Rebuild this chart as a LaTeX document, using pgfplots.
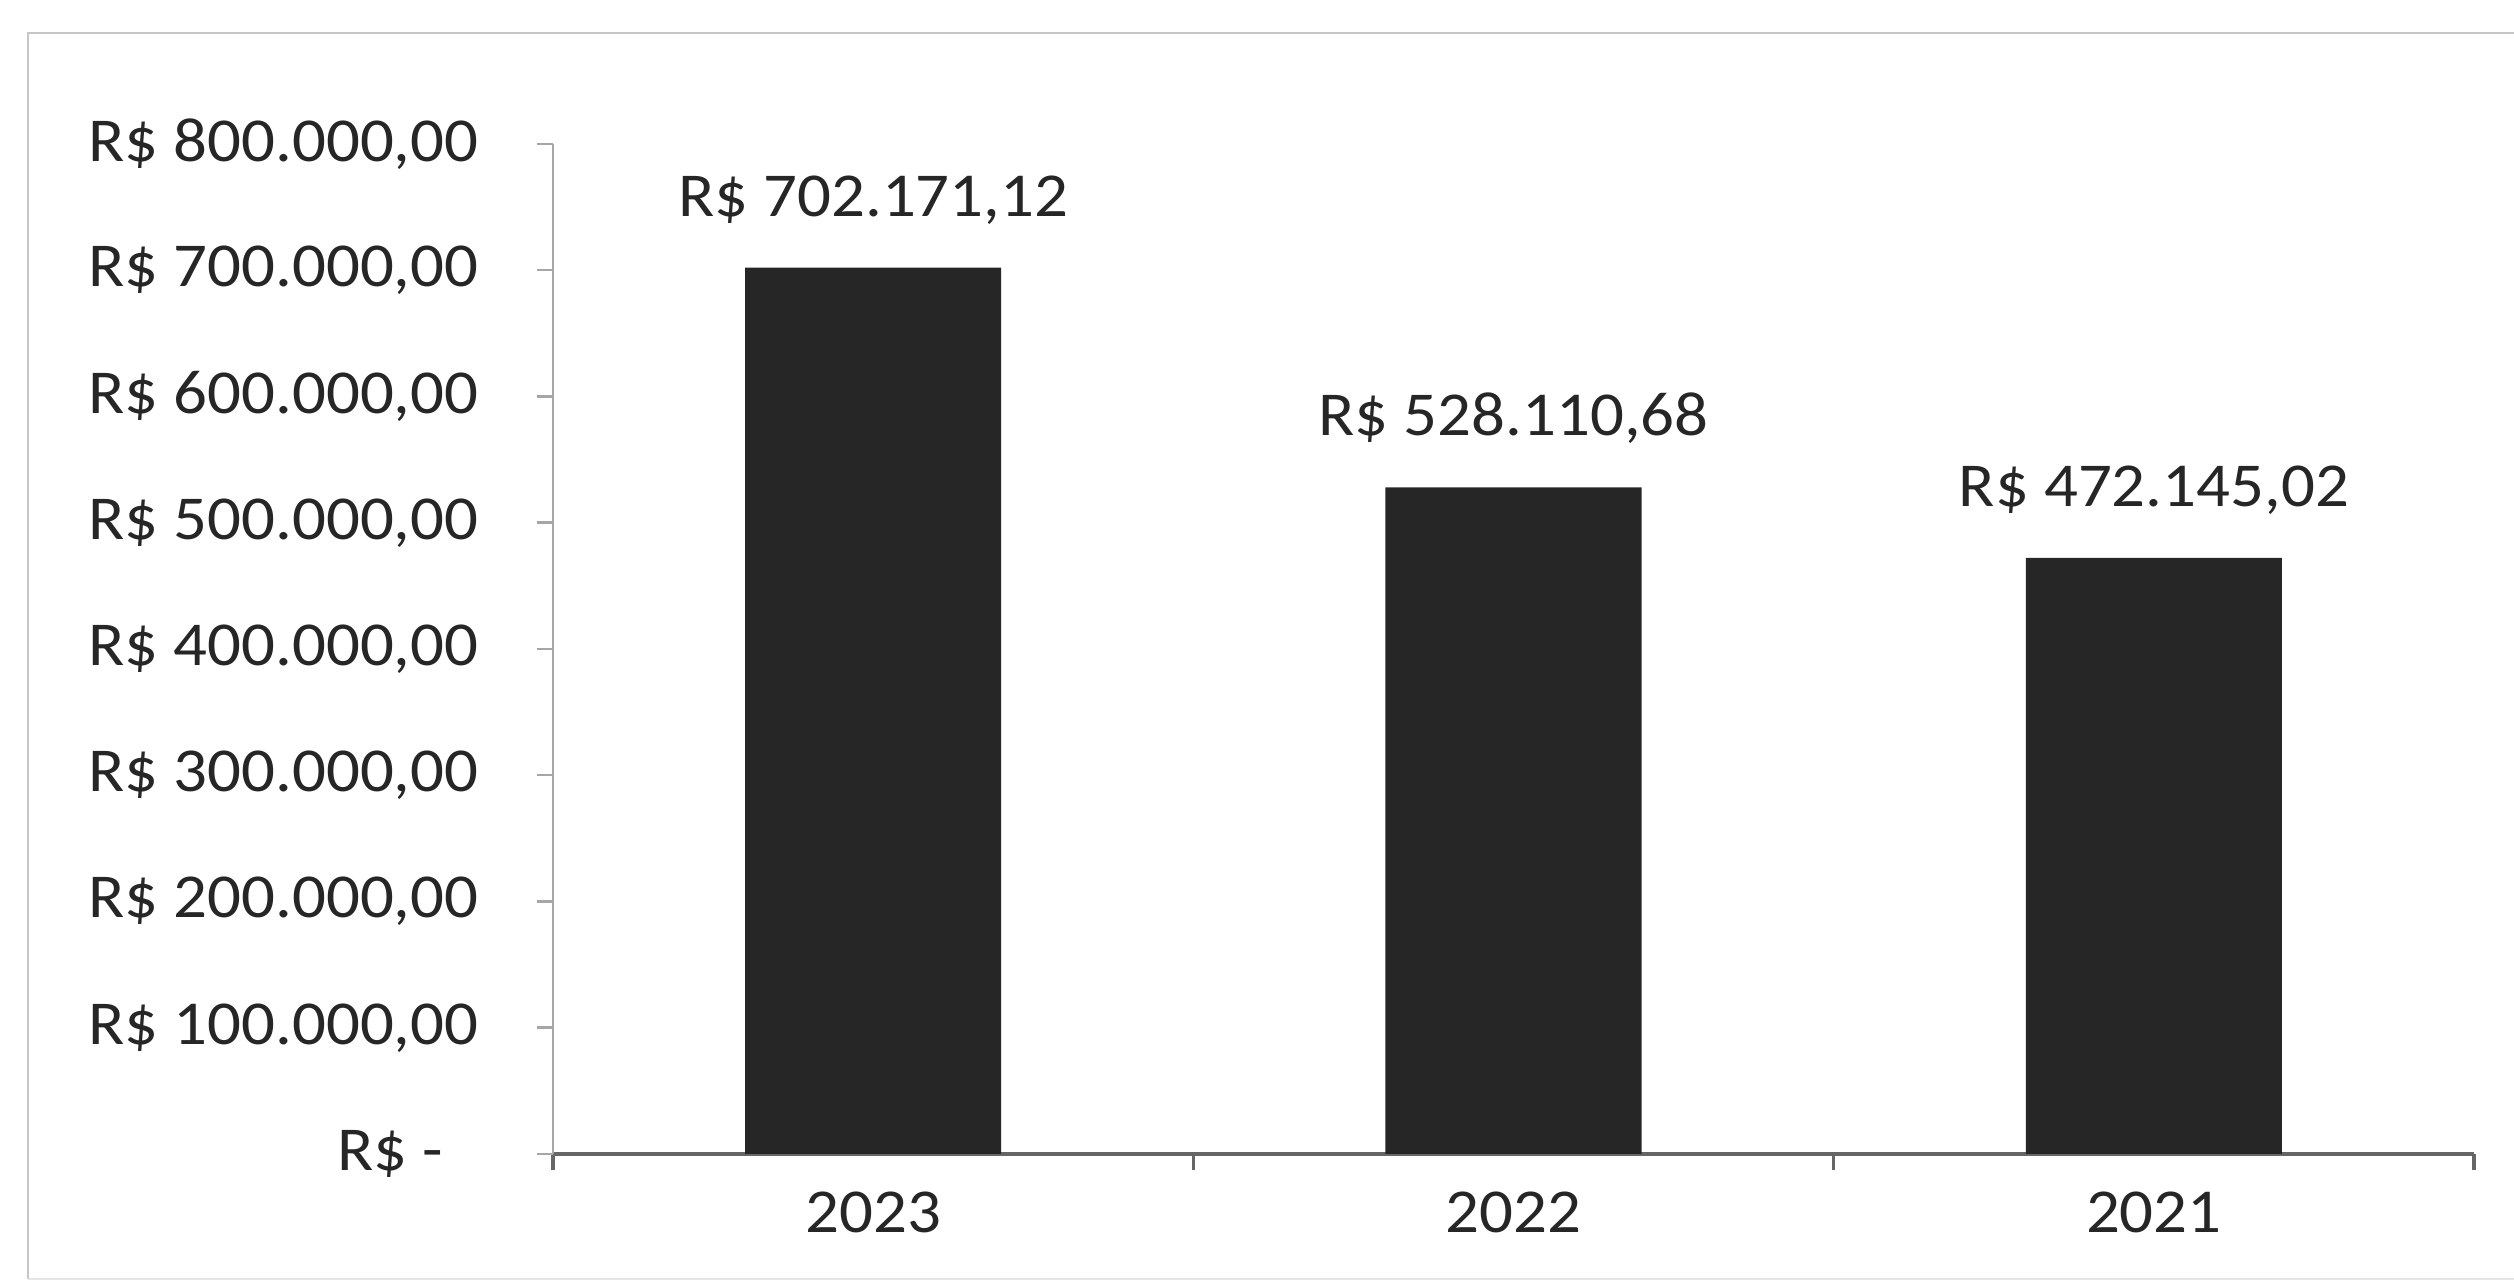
\documentclass[border=0pt]{standalone}
\usepackage{fontspec}
\setmainfont{Carlito}[FakeStretch=1.07]
\usepackage{pgfplots}
\pgfplotsset{compat=1.18}

\begin{document}
\begin{tikzpicture}
% page size, 1 px of the reference = 0.16pt
\path[use as bounding box] (-88.48pt,-20.8pt) rectangle (313.76pt,184.64pt);
\draw[gray!45, line width=0.4pt] (-84pt,-20pt) -- (-84pt,179.36pt) -- (313.76pt,179.36pt);
\draw[gray!20, line width=0.4pt] (-84pt,-20pt) -- (313.76pt,-20pt);
\begin{axis}[
    at={(0,0)}, anchor=south west,
    scale only axis,
    width=307.36pt, height=161.6pt,
    xmin=0, xmax=3,
    ymin=0, ymax=800000,
    clip=false,
    axis x line=bottom, axis y line=left,
    axis line style={-},
    x axis line style={gray!80!black, line width=0.6pt},
    y axis line style={gray!70, line width=0.4pt},
    tick align=outside,
    xtick={0.5,1.5,2.5},
    xticklabels={2023,2022,2021},
    major x tick style={draw=none},
    minor xtick={0,1,2,3},
    minor x tick style={gray!80!black, line width=0.5pt},
    minor tick length=2.6pt,
    ytick={0,100000,...,800000},
    yticklabels={{R\$ -\hspace*{5.6pt}},{R\$ 100.000,00},{R\$ 200.000,00},{R\$ 300.000,00},{R\$ 400.000,00},{R\$ 500.000,00},{R\$ 600.000,00},{R\$ 700.000,00},{R\$ 800.000,00}},
    scaled y ticks=false,
    y tick style={gray!70, line width=0.4pt},
    major tick length=2.6pt,
    yticklabel style={xshift=-5.8pt},
    ticklabel style={text=black!85},
    every node near coord/.append style={yshift=3.4pt, text=black!85},
]
\addplot[ybar, bar width=0.4, fill=black!85, draw=none,
    nodes near coords, point meta=explicit symbolic]
    coordinates {
    (0.5,702171.12) [R\$ 702.171,12]
    (1.5,528110.68) [R\$ 528.110,68]
    (2.5,472145.02) [R\$ 472.145,02]
    };
\end{axis}
\end{tikzpicture}
\end{document}
